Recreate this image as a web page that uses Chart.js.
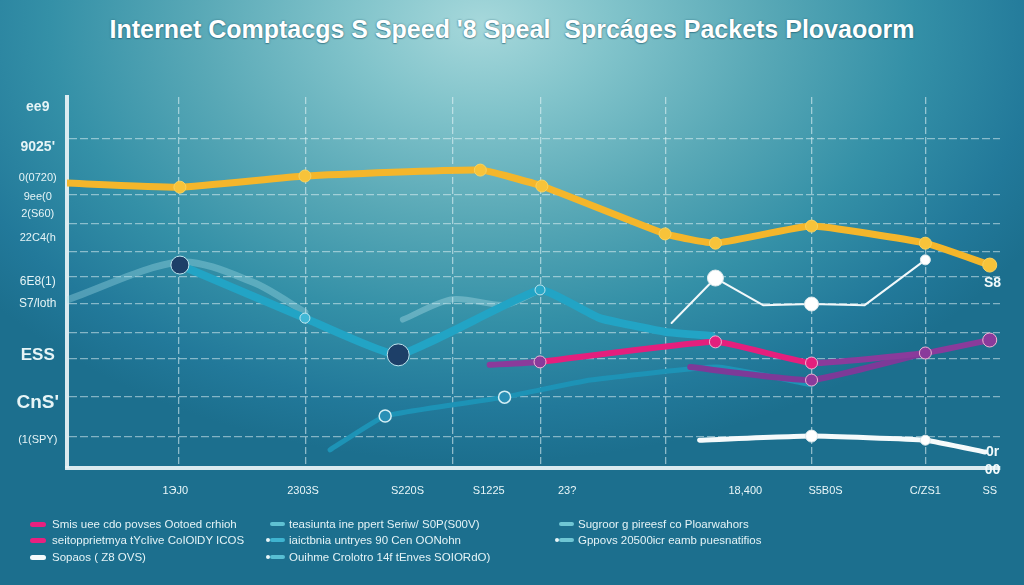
<!DOCTYPE html>
<html><head><meta charset="utf-8">
<script src="https://cdn.jsdelivr.net/npm/chart.js@4.4.1/dist/chart.umd.min.js"></script>
<style>
html,body{margin:0;padding:0;width:1024px;height:585px;overflow:hidden}
body{position:relative;font-family:'Liberation Sans',Arial,sans-serif;
background:radial-gradient(ellipse 62% 75% at 47% 4%, #a6d8db 0%, #82c4cb 20%, #58a8b6 45%, #3490a7 68%, #22799a 88%, #1c6f8e 100%);}
#title{position:absolute;left:0;top:15px;width:1024px;text-align:center;color:#fff;font:bold 25px 'Liberation Sans',Arial,sans-serif;text-shadow:0 0 2px rgba(30,90,110,.7),0 1px 1px rgba(30,90,110,.5);white-space:pre}
canvas{position:absolute;left:0;top:0}
.leg{position:absolute;color:#e4f3f6;font-size:11.5px;white-space:nowrap;line-height:16px}
.sw{position:absolute;height:5px;border-radius:3px}
</style></head><body>
<div id="title"></div>
<canvas id="c" width="1024" height="585"></canvas>
<div id="legend"></div>
<script>
const titleText = "Internet Comptacgs S Speed '8 Speal  Sprcáges Packets Plovaoorm";

const xTickValues = [11.6, 25.3, 36.5, 45.2, 53.6, 72.7, 81.3, 92.0, 98.9];
const xTickLabels = ['1ЭJ0', '2303S', 'S220S', 'S1225', '23?', '18,400', 'S5B0S', 'C/ZS1', 'SS'];
const xGridValues = [12.0, 25.6, 41.3, 50.8, 64.2, 79.8, 92.0];

const yTickValues = [97.3, 86.5, 78.2, 73.0, 68.5, 62.0, 50.1, 44.2, 30.5, 17.5, 7.5];
const yTickLabels = ['ee9', "9025'", '0(0720)', '9ee(0', '2(S60)', '22C4(h', '6E8(1)', 'S7/loth', 'ESS', "CnS'", '(1(SPY)'];
const yGridValues = [88.7, 73.6, 65.8, 58.2, 51.5, 44.3, 36.4, 29.6, 19.1, 8.4];

const yellowX = [0, 12.1, 25.5, 44.3, 50.9, 64.1, 69.5, 79.8, 92.0, 98.9];
const yellowY = [76.8, 75.7, 78.7, 80.3, 76.0, 63.1, 60.6, 65.2, 60.6, 54.7];

const tealX = [12.1, 25.5, 35.5, 50.7, 57.1, 64.1, 69.1];
const tealY = [54.7, 40.4, 30.5, 48.0, 40.4, 36.7, 35.6];

const pinkX = [45.3, 50.7, 69.5, 79.8, 92.0, 98.9];
const pinkY = [27.8, 28.6, 34.0, 28.3, 31.0, 34.5];

const purpleX = [66.8, 79.8, 92.0];
const purpleY = [27.2, 23.7, 31.0];

const whiteThinX = [64.8, 69.5, 74.6, 79.8, 85.5, 92.0];
const whiteThinY = [39.1, 51.2, 43.9, 44.2, 43.9, 56.1];

const whiteThickX = [67.8, 79.8, 92.0, 98.4];
const whiteThickY = [7.5, 8.6, 7.5, 4.3];

const tealLowX = [28.2, 34.1, 46.9, 56.1, 69.7, 79.8];
const tealLowY = [4.9, 14.0, 19.1, 23.7, 27.2, 22.4];

const faintAX = [0, 12.1, 20.0, 25.5];
const faintAY = [45.3, 55.5, 50.0, 42.0];
const faintBX = [36.0, 41.3, 47.0, 50.7];
const faintBY = [40.0, 45.5, 44.0, 48.0];

const annoTexts = ['S8', '0r', '00'];
const annoX = [99.2, 99.2, 99.2];
const annoY = [49.9, 4.3, -0.6];

const legendLabels = [
  ['Smis uee cdo povses Ootoed crhioh', 'seitopprietmya tYcIive CoIOlDY ICOS', 'Sopaos ( Z8 OVS)'],
  ['teasiunta ine ppert Seriw/ S0P(S00V)', 'iaictbnia untryes 90 Cen OONohn', 'Ouihme Crolotro 14f tEnves SOIORdO)'],
  ['Sugroor g pireesf co Ploarwahors', 'Gppovs 20500icr eamb puesnatifios']
];
const legendColors = [
  ['#e8207f', '#e8207f', '#f4fafb'],
  ['#5fc1d2', '#3fb4d0', '#58bfd3'],
  ['#6fc6d4', '#6fc6d4']
];

document.getElementById('title').textContent = titleText;

// legend
(function(){
  const colX = [[30, 52], [270, 289], [559, 578]];
  const rowY = [516, 532, 549];
  const lg = document.getElementById('legend');
  legendLabels.forEach((col, ci) => {
    col.forEach((t, ri) => {
      const sw = document.createElement('div');
      sw.className = 'sw';
      sw.style.left = colX[ci][0] + 'px';
      sw.style.top = (rowY[ri] + 6) + 'px';
      sw.style.width = (ci === 0 ? 16 : 15) + 'px';
      sw.style.height = (ci === 0 ? 5 : 4) + 'px';
      sw.style.background = legendColors[ci][ri];
      lg.appendChild(sw);
      if (ci > 0 && ri > 0) {
        const d = document.createElement('div');
        d.className = 'sw';
        d.style.left = (colX[ci][0] - 4) + 'px';
        d.style.top = (rowY[ri] + 6) + 'px';
        d.style.width = '4px'; d.style.height = '4px';
        d.style.background = '#e8f6f8';
        lg.appendChild(d);
      }
      const el = document.createElement('div');
      el.className = 'leg';
      el.style.left = colX[ci][1] + 'px';
      el.style.top = rowY[ri] + 'px';
      el.textContent = t;
      lg.appendChild(el);
    });
  });
})();

const pts = (xs, ys) => xs.map((x, i) => ({x: x, y: ys[i]}));
const xAll = Array.from(new Set(xTickValues.concat(xGridValues))).sort((a,b)=>a-b);
const yAll = Array.from(new Set(yTickValues.concat(yGridValues))).sort((a,b)=>a-b);

const yFonts = {'ee9':[14,'bold'], "9025'":[14,'bold'], 'ESS':[17,'bold'], "CnS'":[19,'bold'], '6E8(1)':[12,'normal'], 'S7/loth':[12,'normal']};

const annoPlugin = {
  id: 'anno',
  afterDatasetsDraw(chart) {
    const {ctx, scales:{x, y}} = chart;
    ctx.save();
    ctx.fillStyle = '#f2fafb';
    ctx.font = 'bold 14px "Liberation Sans", Arial';
    ctx.textAlign = 'center'; ctx.textBaseline = 'middle';
    annoTexts.forEach((t, i) => ctx.fillText(t, x.getPixelForValue(annoX[i]), y.getPixelForValue(annoY[i])));
    ctx.restore();
  }
};

const base = {fill: false, tension: 0.12, borderCapStyle: 'round', borderJoinStyle: 'round'};

new Chart(document.getElementById('c'), {
  type: 'line',
  data: {
    datasets: [
      Object.assign({}, base, {label: 'yellow', data: pts(yellowX, yellowY), borderColor: '#f4b62b', borderWidth: 7,
        pointRadius: [0,6,6,6,6,6,6,6,6,7], pointBackgroundColor: '#f7c33a', pointBorderColor: '#f9d25c', pointBorderWidth: 1}),
      Object.assign({}, base, {label: 'pink', data: pts(pinkX, pinkY), borderColor: '#e41f7d', borderWidth: 6,
        segment: {borderColor: c => (c.p0DataIndex === 0 || c.p0DataIndex >= 3) ? '#8a3b9b' : '#e41f7d'},
        pointRadius: [0,6,6,6,6,7], pointBackgroundColor: ['#8a3b9b','#8a3b9b','#e41f7d','#e41f7d','#8a3b9b','#8a3b9b'], pointBorderColor: '#f2b6d4', pointBorderWidth: 1}),
      Object.assign({}, base, {label: 'purple', data: pts(purpleX, purpleY), borderColor: '#7d3a98', borderWidth: 6,
        pointRadius: [0,6,0], pointBackgroundColor: '#8a3b9b', pointBorderColor: '#f2b6d4', pointBorderWidth: 1}),
      Object.assign({}, base, {label: 'whiteThin', data: pts(whiteThinX, whiteThinY), borderColor: '#f2f8fa', borderWidth: 2, tension: 0,
        pointRadius: [0,8,0,7,0,5], pointBackgroundColor: '#ffffff', pointBorderColor: '#dfe9ec', pointBorderWidth: 1}),
      Object.assign({}, base, {label: 'whiteThick', data: pts(whiteThickX, whiteThickY), borderColor: '#f5fafb', borderWidth: 5,
        pointRadius: [0,6,5,0], pointBackgroundColor: '#ffffff', pointBorderColor: '#dfe9ec', pointBorderWidth: 1}),
      Object.assign({}, base, {label: 'teal', data: pts(tealX, tealY), borderColor: '#22a4c5', borderWidth: 8,
        pointRadius: [9,5,11,5,0,0,0], pointBackgroundColor: ['#1d3f68','#41b8d6','#1d3f68','#2aa8c8','#2aa8c8','#2aa8c8','#2aa8c8'], pointBorderColor: '#bfe6ef', pointBorderWidth: 1}),
      Object.assign({}, base, {label: 'tealLow', data: pts(tealLowX, tealLowY), borderColor: '#1d93b6', borderWidth: 5,
        pointRadius: [0,6,6,0,0,0], pointBackgroundColor: '#2a8fb5', pointBorderColor: '#d4eff5', pointBorderWidth: 1.5}),
      Object.assign({}, base, {label: 'faintA', data: pts(faintAX, faintAY), borderColor: 'rgba(170,225,235,0.35)', borderWidth: 7, pointRadius: 0, tension: 0.3}),
      Object.assign({}, base, {label: 'faintB', data: pts(faintBX, faintBY), borderColor: 'rgba(190,232,240,0.35)', borderWidth: 6, pointRadius: 0, tension: 0.3})
    ]
  },
  options: {
    responsive: false, animation: false,
    layout: {padding: {left: 0, right: 24, top: 97, bottom: 77}},
    plugins: {legend: {display: false}, tooltip: {enabled: false}},
    scales: {
      x: {
        type: 'linear', min: 0, max: 100,
        afterBuildTicks: s => { s.ticks = xAll.map(v => ({value: v})); },
        afterFit: s => { s.height = 40; },
        ticks: {autoSkip: false, maxRotation: 0, padding: 16, color: '#e9f6f8',
          font: {size: 11, family: '"Liberation Sans Narrow","Liberation Sans",Arial'},
          callback: v => { const i = xTickValues.indexOf(v); return i < 0 ? '' : xTickLabels[i]; }},
        grid: {drawTicks: false, lineWidth: 1.3,
          color: c => (c.tick && xGridValues.includes(c.tick.value)) ? 'rgba(235,248,250,0.55)' : 'rgba(0,0,0,0)'},
        border: {color: 'rgba(232,243,246,0.93)', width: 4, dash: [7, 3]}
      },
      y: {
        type: 'linear', min: 0, max: 100,
        afterBuildTicks: s => { s.ticks = yAll.map(v => ({value: v})); },
        afterFit: s => { s.width = 67; },
        ticks: {autoSkip: false, padding: 8, crossAlign: 'center', color: '#e6f4f6',
          font: c => { const i = yTickValues.indexOf(c.tick ? c.tick.value : NaN); const l = i < 0 ? '' : yTickLabels[i];
            const f = yFonts[l] || [11, 'normal']; return {size: f[0], weight: f[1], family: '"Liberation Sans",Arial'}; },
          callback: v => { const i = yTickValues.indexOf(v); return i < 0 ? '' : yTickLabels[i]; }},
        grid: {drawTicks: false, lineWidth: 1.3,
          color: c => (c.tick && yGridValues.includes(c.tick.value)) ? 'rgba(235,248,250,0.5)' : 'rgba(0,0,0,0)'},
        border: {color: 'rgba(232,243,246,0.93)', width: 4, dash: [8, 3]}
      }
    }
  },
  plugins: [annoPlugin]
});
</script>
</body></html>
